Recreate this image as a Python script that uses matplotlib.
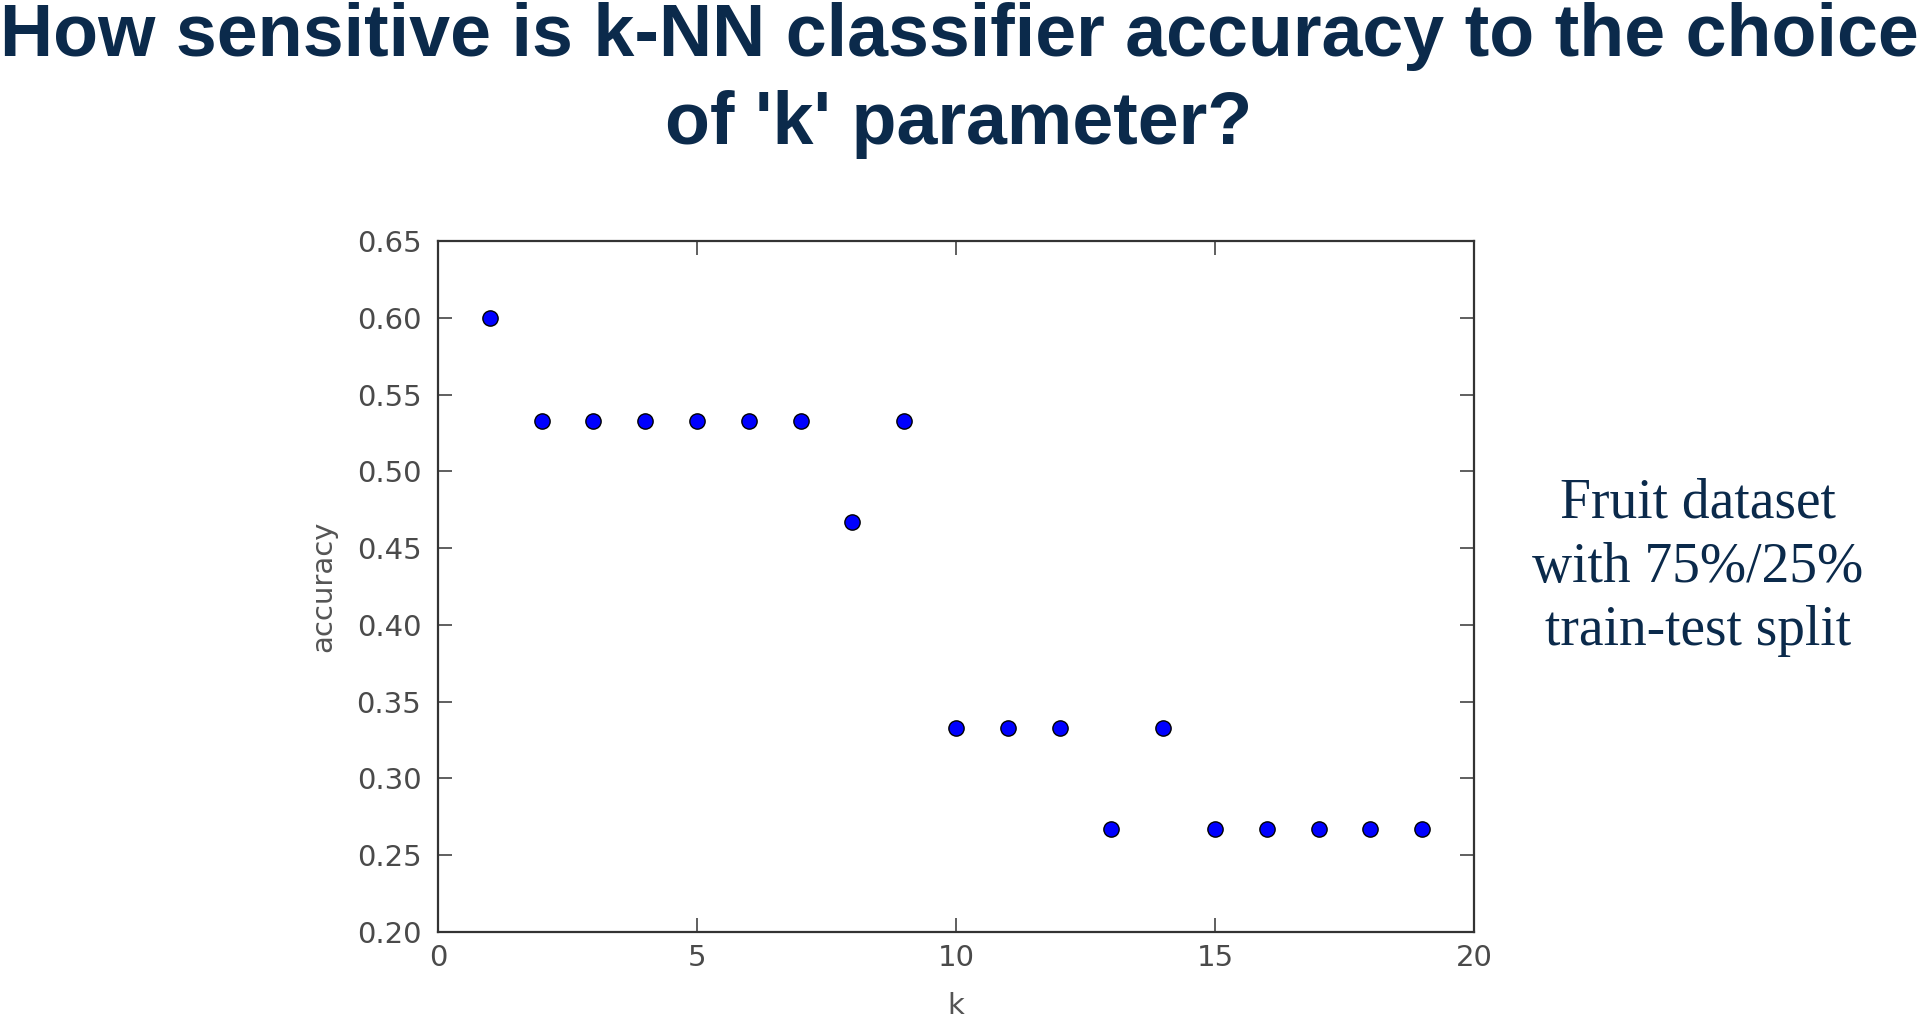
import matplotlib
matplotlib.use("Agg")
import matplotlib.pyplot as plt

# k values and test accuracy (fruit dataset, 15 test samples)
k_values = list(range(1, 20))
accuracy = [0.600, 0.533, 0.533, 0.533, 0.533, 0.533, 0.533, 0.467, 0.533,
            0.333, 0.333, 0.333, 0.267, 0.333, 0.267, 0.267, 0.267, 0.267, 0.267]

title_lines = ["How sensitive is k-NN classifier accuracy to the choice",
               "of 'k' parameter?"]
note_lines = ["Fruit dataset", "with 75%/25%", "train-test split"]

NAVY = "#0b2a4b"
W, H = 1918, 1018

fig = plt.figure(figsize=(W / 100, H / 100), dpi=100)

# title, two lines placed by baseline
for text, base in zip(title_lines, [56, 144]):
    fig.text(0.5, 1 - base / H, text, ha="center", va="baseline",
             fontsize=53, fontweight="bold", family="Liberation Sans", color=NAVY)

# side note
for text, base in zip(note_lines, [518, 582, 645]):
    fig.text(1698 / W, 1 - base / H, text, ha="center", va="baseline",
             fontsize=40, family="Liberation Serif", color=NAVY)

ax = fig.add_axes([438 / W, 86 / H, (1474 - 438) / W, (932 - 241) / H])
ax.plot(k_values, accuracy, "o", color="#0000ff", markeredgecolor="black",
        markeredgewidth=1.0, markersize=11)

ax.set_xlim(0, 20)
ax.set_ylim(0.20, 0.65)
ax.set_xticks([0, 5, 10, 15, 20])
ax.set_yticks([0.20, 0.25, 0.30, 0.35, 0.40, 0.45, 0.50, 0.55, 0.60, 0.65])
ax.set_yticklabels([f"{v:.2f}" for v in ax.get_yticks()])

ax.tick_params(direction="in", length=10, width=1.2, color="#444444",
               top=True, right=True, labelsize=21, labelcolor="#4a4a4a")
ax.tick_params(axis="x", pad=9)
ax.tick_params(axis="y", pad=12)
for sp in ax.spines.values():
    sp.set_linewidth(1.6)
    sp.set_color("#333333")

ax.set_xlabel("k", fontsize=21, color="#555555", labelpad=14)
ax.set_ylabel("accuracy", fontsize=21, color="#555555", labelpad=14)

fig.savefig("out.png", dpi=100)
